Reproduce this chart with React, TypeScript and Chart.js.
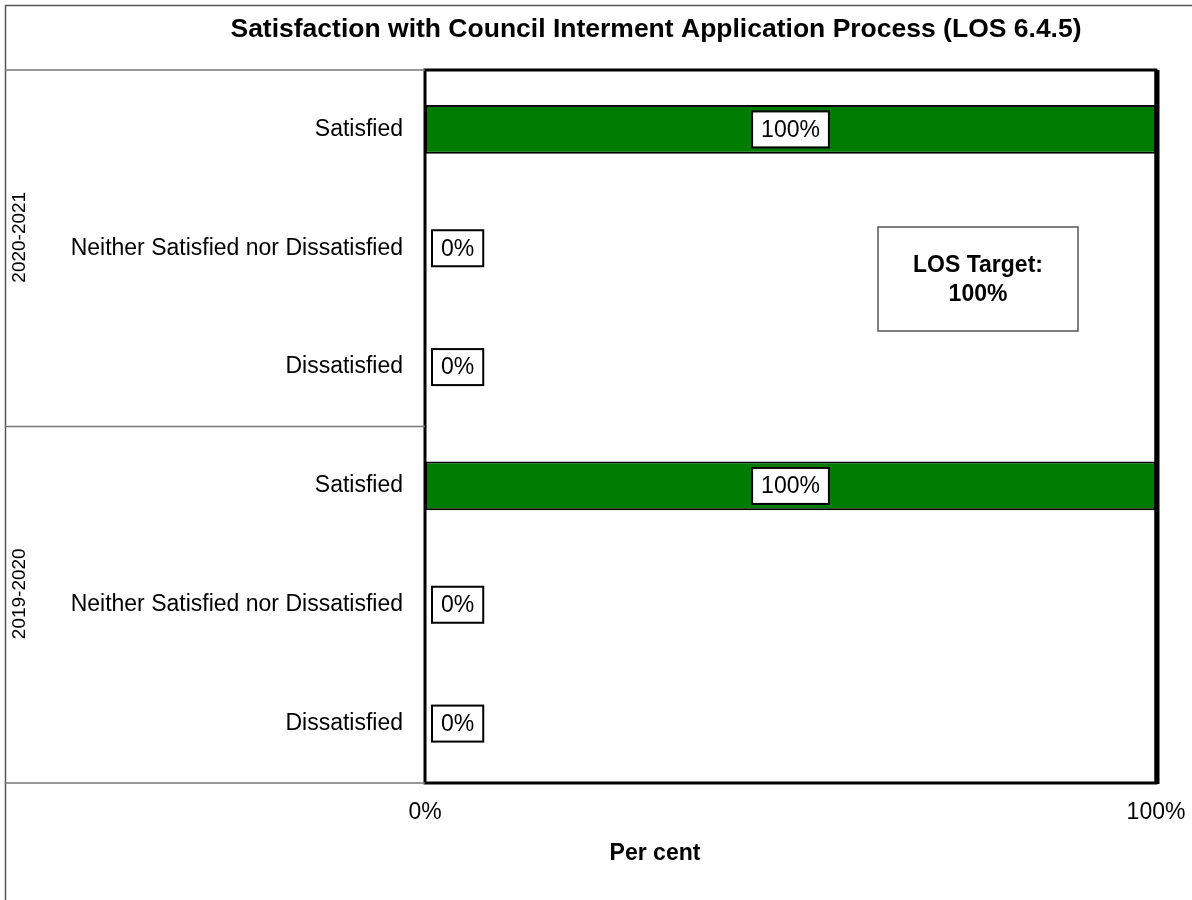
import React, { useEffect, useRef } from "react";
import { Chart, registerables } from "chart.js";

Chart.register(...registerables);

const TITLE = "Satisfaction with Council Interment Application Process (LOS 6.4.5)";
const CATEGORIES = [
  "Satisfied",
  "Neither Satisfied nor Dissatisfied",
  "Dissatisfied",
  "Satisfied",
  "Neither Satisfied nor Dissatisfied",
  "Dissatisfied",
];
const GROUPS = ["2020-2021", "2019-2020"];
const GROUP_SIZES = [3, 3];
const VALUES = [100, 0, 0, 100, 0, 0];
const X_TICKS = [0, 100];
const X_TITLE = "Per cent";
const TARGET_LINES = ["LOS Target:", "100%"];

const FONT = "Arial, 'Liberation Sans', sans-serif";

const decorPlugin = {
  id: "decor",
  afterDatasetsDraw(chart: any) {
    const ctx = chart.ctx;
    const ca = chart.chartArea;
    ctx.save();
    // plot border
    ctx.strokeStyle = "#000";
    ctx.lineWidth = 3;
    ctx.strokeRect(ca.left, ca.top, ca.right - ca.left, ca.bottom - ca.top);
    ctx.lineWidth = 5;
    ctx.beginPath();
    ctx.moveTo(ca.right + 1, ca.top);
    ctx.lineTo(ca.right + 1, ca.bottom + 1);
    ctx.stroke();

    // data labels
    const meta = chart.getDatasetMeta(0);
    ctx.font = `23px ${FONT}`;
    ctx.textAlign = "center";
    ctx.textBaseline = "middle";
    meta.data.forEach((el: any, i: number) => {
      const v = VALUES[i];
      const txt = `${v}%`;
      const w = ctx.measureText(txt).width + 18;
      const h = 36;
      let cx: number;
      if (v >= 50) {
        cx = (el.x + el.base) / 2;
      } else {
        cx = el.x + 7 + w / 2;
      }
      const cy = el.y;
      ctx.fillStyle = "#fff";
      ctx.fillRect(cx - w / 2, cy - h / 2, w, h);
      ctx.strokeStyle = "#000";
      ctx.lineWidth = 2;
      ctx.strokeRect(cx - w / 2, cy - h / 2, w, h);
      ctx.fillStyle = "#000";
      ctx.fillText(txt, cx, cy + 1);
    });
    ctx.restore();
  },
  afterDraw(chart: any) {
    const ctx = chart.ctx;
    const ca = chart.chartArea;
    const yScale = chart.scales.y;
    ctx.save();
    // outer frame
    ctx.strokeStyle = "#555";
    ctx.lineWidth = 1.5;
    ctx.beginPath();
    ctx.moveTo(5.5, chart.height);
    ctx.lineTo(5.5, 5.5);
    ctx.lineTo(chart.width, 5.5);
    ctx.stroke();

    // group separators and labels
    ctx.strokeStyle = "#777";
    ctx.lineWidth = 1.5;
    let start = 0;
    const bounds: number[] = [ca.top];
    GROUP_SIZES.forEach((n) => {
      start += n;
      bounds.push(yScale.getPixelForValue(start - 0.5));
    });
    bounds[bounds.length - 1] = ca.bottom;
    bounds.forEach((y) => {
      ctx.beginPath();
      ctx.moveTo(5, y);
      ctx.lineTo(ca.left, y);
      ctx.stroke();
    });
    ctx.fillStyle = "#000";
    ctx.font = `19px ${FONT}`;
    ctx.textAlign = "center";
    ctx.textBaseline = "middle";
    GROUPS.forEach((g, i) => {
      const cy = (bounds[i] + bounds[i + 1]) / 2 - 11;
      ctx.save();
      ctx.translate(20, cy);
      ctx.rotate(-Math.PI / 2);
      ctx.fillText(g, 0, 0);
      ctx.restore();
    });

    // title
    ctx.font = `bold 26.5px ${FONT}`;
    ctx.fillText(TITLE, 656, 30);

    // axis title
    ctx.font = `bold 23px ${FONT}`;
    ctx.fillText(X_TITLE, 655, 854);

    // target box
    const bx = 878, by = 227, bw = 200, bh = 104;
    ctx.fillStyle = "#fff";
    ctx.fillRect(bx, by, bw, bh);
    ctx.strokeStyle = "#555";
    ctx.lineWidth = 1.5;
    ctx.strokeRect(bx, by, bw, bh);
    ctx.fillStyle = "#000";
    ctx.font = `bold 23px ${FONT}`;
    ctx.fillText(TARGET_LINES[0], bx + bw / 2, 266);
    ctx.fillText(TARGET_LINES[1], bx + bw / 2, 295);
    ctx.restore();
  },
};

export default function App() {
  const ref = useRef<HTMLCanvasElement>(null);
  useEffect(() => {
    if (!ref.current) return;
    const chart = new Chart(ref.current, {
      type: "bar",
      data: {
        labels: CATEGORIES,
        datasets: [
          {
            data: VALUES,
            backgroundColor: "#007D00",
            borderColor: "#000",
            borderWidth: 2,
            borderSkipped: false,
            barPercentage: 0.41,
            categoryPercentage: 1,
          },
        ],
      },
      options: {
        indexAxis: "y",
        responsive: false,
        animation: false,
        layout: { padding: { top: 70, right: 36, left: 0, bottom: 0 } },
        plugins: {
          legend: { display: false },
          title: { display: false },
          tooltip: { enabled: false },
        },
        scales: {
          x: {
            min: X_TICKS[0],
            max: X_TICKS[X_TICKS.length - 1],
            afterBuildTicks: (s: any) => {
              s.ticks = X_TICKS.map((v) => ({ value: v }));
            },
            ticks: {
              callback: (v: any) => `${v}%`,
              font: { family: FONT, size: 23 },
              color: "#000",
              padding: 16,
              maxRotation: 0,
              autoSkip: false,
            },
            grid: { display: false, drawTicks: false },
            border: { display: false },
            afterFit: (s: any) => {
              s.height = 117;
              s.paddingLeft = 0;
              s.paddingRight = 0;
            },
          },
          y: {
            ticks: {
              font: { family: FONT, size: 23 },
              color: "#000",
              padding: 22,
              autoSkip: false,
            },
            grid: { display: false, drawTicks: false },
            border: { display: false },
            afterFit: (s: any) => {
              s.width = 425;
              s.paddingTop = 0;
              s.paddingBottom = 0;
            },
          },
        },
      },
      plugins: [decorPlugin],
    });
    return () => chart.destroy();
  }, []);
  return (
    <div style={{ position: "absolute", left: 0, top: 0, width: 1192, height: 900, background: "#fff" }}>
      <canvas ref={ref} width={1192} height={900} style={{ display: "block" }} />
    </div>
  );
}
